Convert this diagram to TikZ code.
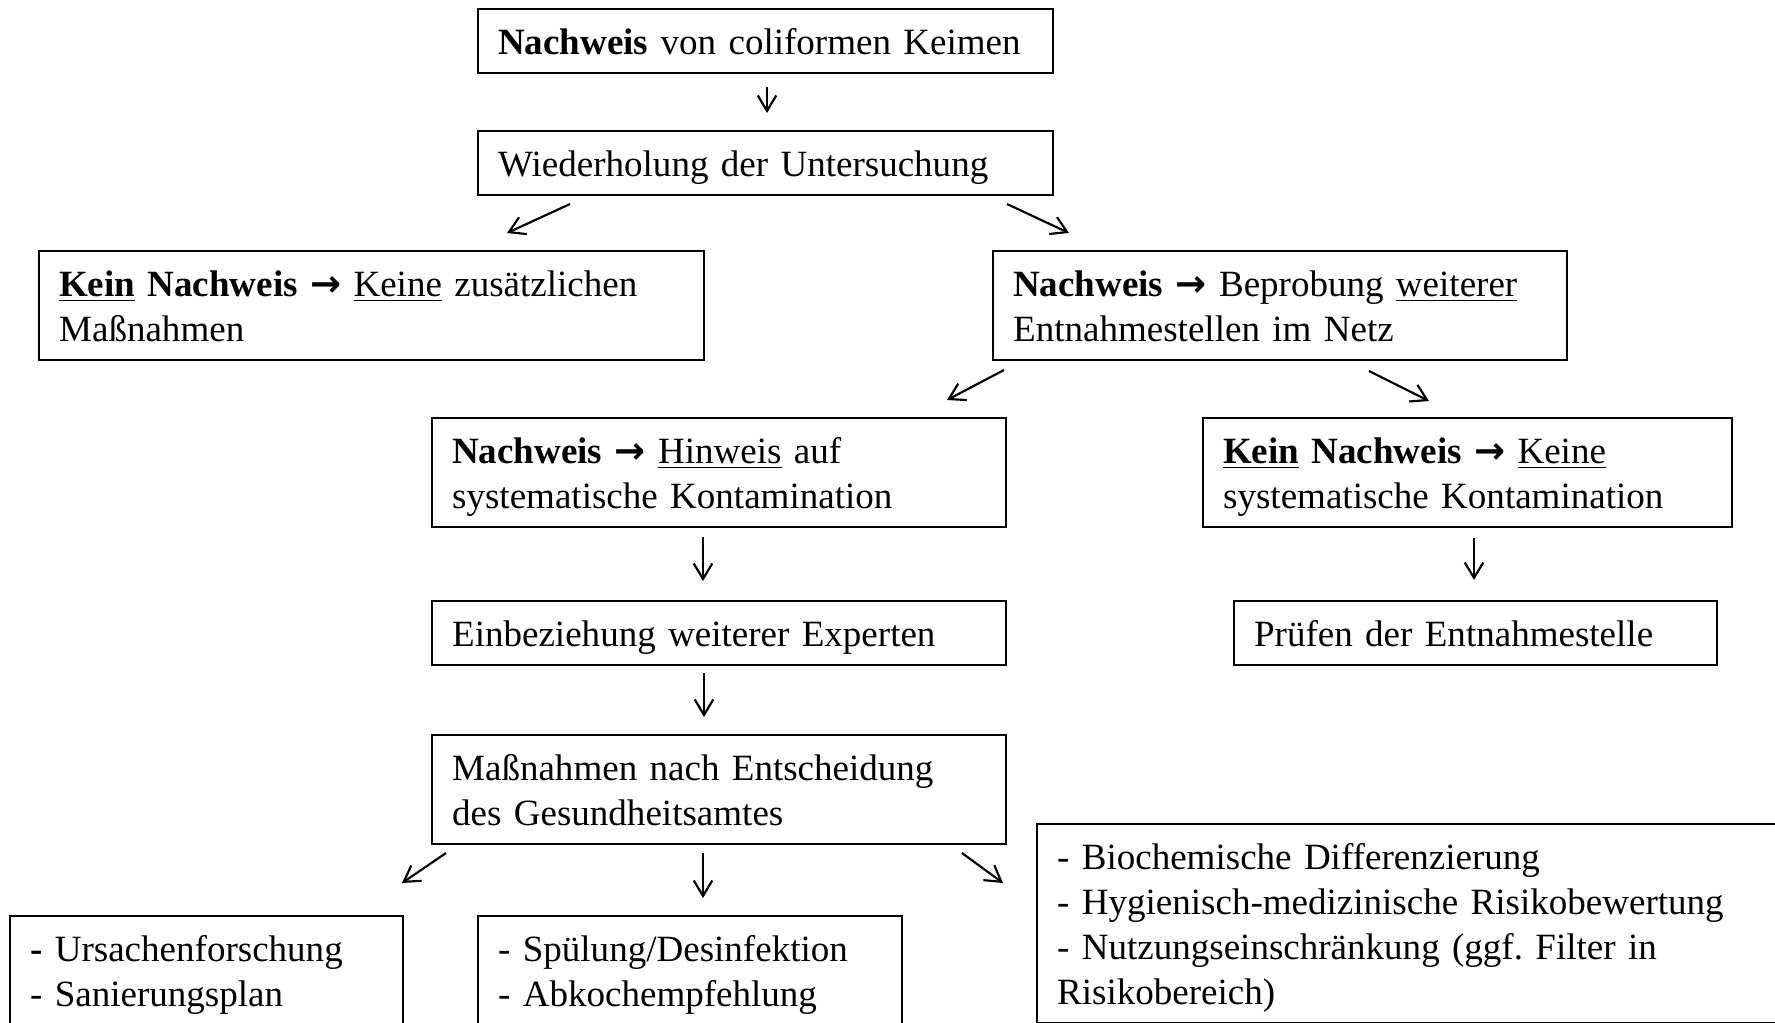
\documentclass[tikz,border=0pt]{standalone}
\usepackage{fontspec}
\setmainfont{Liberation Serif}
\newfontfamily\pfeilfont{DejaVu Sans}
\usetikzlibrary{arrows.meta}
\frenchspacing
\newcommand{\zs}{\rule[-3.1pt]{0pt}{14.6pt}}
\newcommand{\pf}{{\pfeilfont\bfseries →}}
\tikzset{
    kasten/.style={draw, line width=0.7pt, anchor=north west, align=left, inner xsep=6.5pt, inner ysep=3.1pt, text width=#1,
        font=\fontsize{12}{14.6}\selectfont, execute at begin node=\zs, execute at end node=\zs},
    pfeil/.style={line width=0.7pt, -{Straight Barb[length=5pt,width=6pt]}}
}
\begin{document}
\begin{tikzpicture}[x=0.324pt, y=-0.324pt]
    \useasboundingbox (0,0) rectangle (1775,1022);
    \clip (0,0) rectangle (1775,1022);
    \node[kasten=173.3pt] (nachweis) at (477,8) {\textbf{Nachweis} von coliformen Keimen};
    \node[kasten=173.3pt] (wiederholung) at (477,130) {Wiederholung der Untersuchung};
    \node[kasten=202.5pt] (keinlinks) at (38,250) {\underline{\textbf{Kein}} \textbf{Nachweis} \pf{} \underline{Keine} zusätzlichen\\Maßnahmen};
    \node[kasten=173pt] (beprobung) at (992,250) {\textbf{Nachweis} \pf{} Beprobung \underline{weiterer}\\Entnahmestellen im Netz};
    \node[kasten=173pt] (hinweis) at (431,417) {\textbf{Nachweis} \pf{} \underline{Hinweis} auf\\systematische Kontamination};
    \node[kasten=158.4pt] (keinrechts) at (1202,417) {\underline{\textbf{Kein}} \textbf{Nachweis} \pf{} \underline{Keine}\\systematische Kontamination};
    \node[kasten=173pt] (experten) at (431,600) {Einbeziehung weiterer Experten};
    \node[kasten=143.5pt] (pruefen) at (1233,600) {Prüfen der Entnahmestelle};
    \node[kasten=173pt] (massnahmen) at (431,734) {Maßnahmen nach Entscheidung\\des Gesundheitsamtes};
    \node[kasten=114.3pt] (ursachen) at (9,915) {\textbf{-} Ursachenforschung\\- Sanierungsplan};
    \node[kasten=124.4pt] (spuelung) at (477,915) {- Spülung/Desinfektion\\- Abkochempfehlung};
    \node[kasten=260pt] (risiko) at (1036,823) {- Biochemische Differenzierung\\- Hygienisch-medizinische Risikobewertung\\- Nutzungseinschränkung (ggf. Filter in\\Risikobereich)};
    \coordinate (p1a) at (767,87);   \coordinate (p1b) at (767,113);
    \coordinate (p2a) at (570,204);  \coordinate (p2b) at (507,233);
    \coordinate (p3a) at (1007,204); \coordinate (p3b) at (1069,233);
    \coordinate (p4a) at (1004,370); \coordinate (p4b) at (947,400);
    \coordinate (p5a) at (1369,371); \coordinate (p5b) at (1429,401);
    \coordinate (p6a) at (703,537);  \coordinate (p6b) at (703,581);
    \coordinate (p7a) at (1474,538); \coordinate (p7b) at (1474,580);
    \coordinate (p8a) at (704,673);  \coordinate (p8b) at (704,717);
    \coordinate (p9a) at (446,853);  \coordinate (p9b) at (402,883);
    \coordinate (p10a) at (703,853); \coordinate (p10b) at (703,898);
    \coordinate (p11a) at (962,853); \coordinate (p11b) at (1003,883);
    \foreach \i in {1,...,11} { \draw[pfeil] (p\i a) -- (p\i b); }
\end{tikzpicture}
\end{document}
